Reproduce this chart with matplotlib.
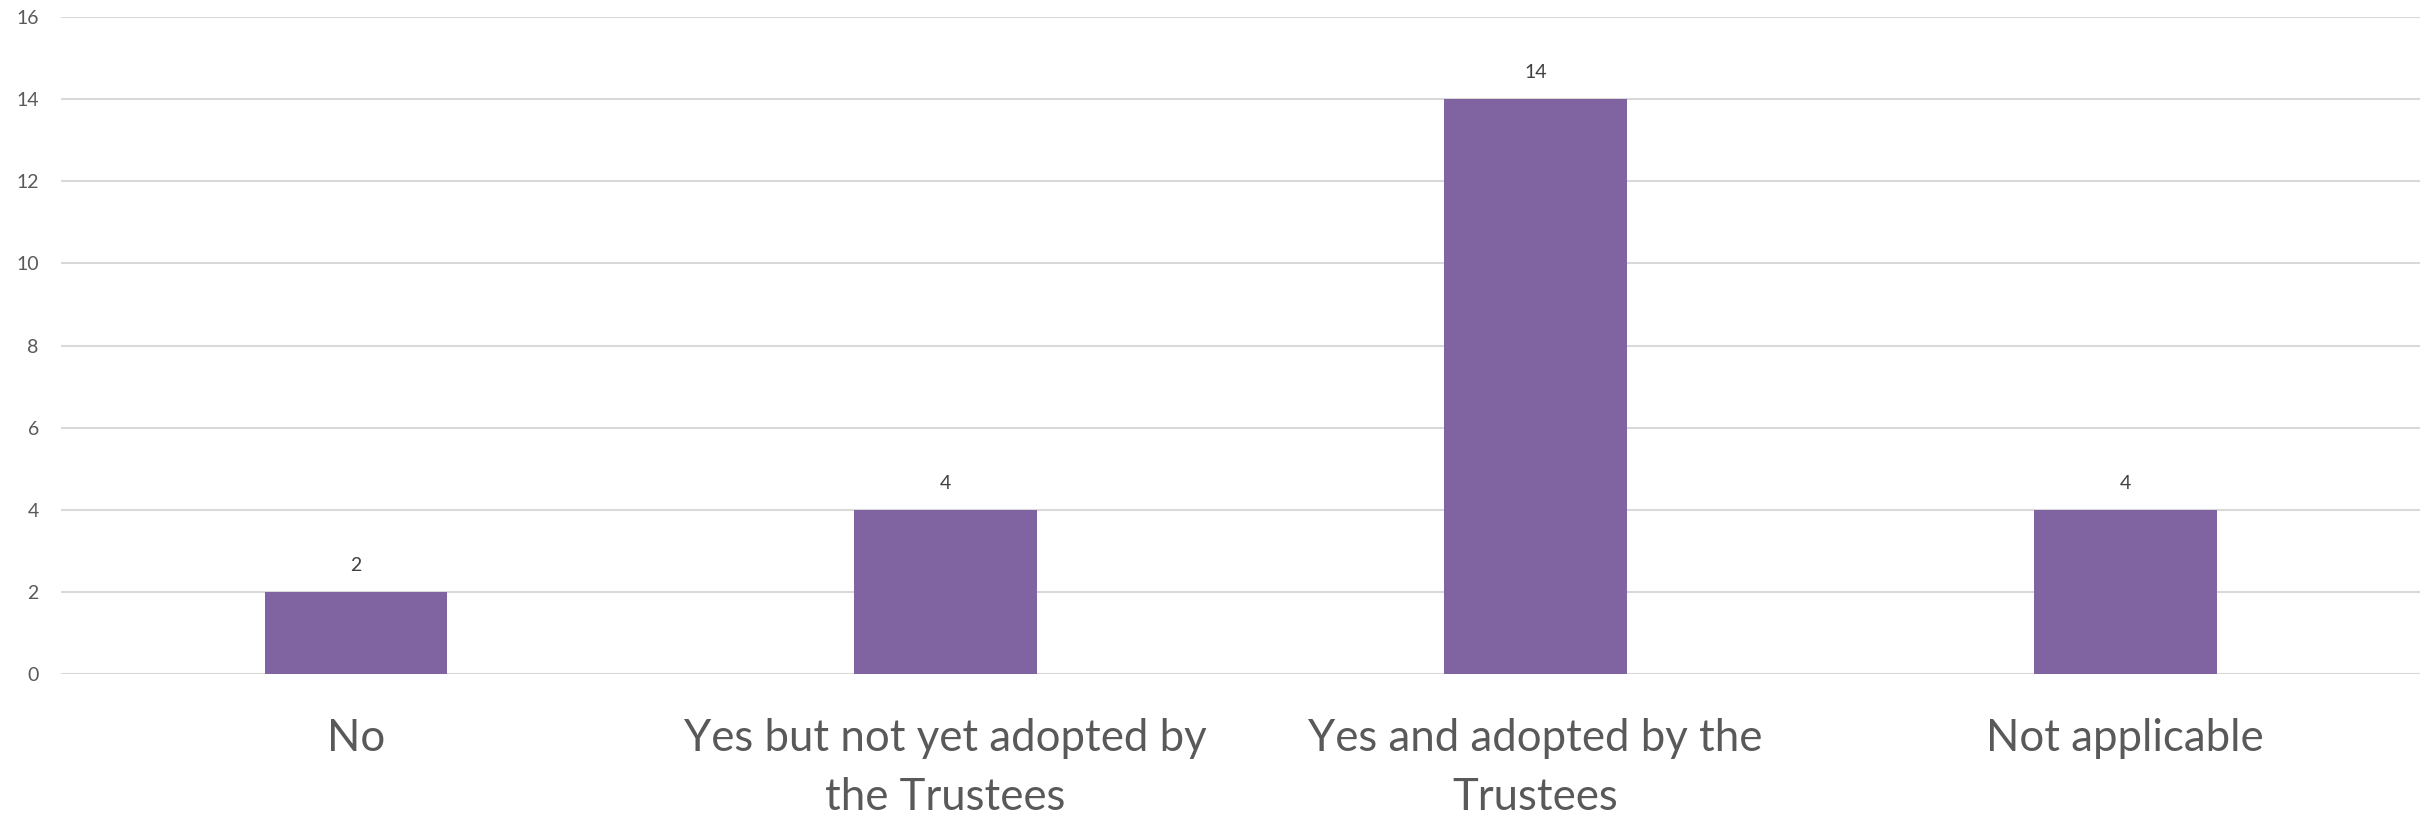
import matplotlib.pyplot as plt
import numpy as np

# Data
categories = ["No", "Yes but not yet adopted by\nthe Trustees",
              "Yes and adopted by the\nTrustees", "Not applicable"]
counts = [2, 4, 14, 4]
y_ticks = [0, 2, 4, 6, 8, 10, 12, 14, 16]

plt.rcParams['font.family'] = ['Lato', 'DejaVu Sans']

fig = plt.figure(figsize=(24.22, 8.16), dpi=100)
ax = fig.add_axes([0.0252, 0.174, 0.974, 0.805])

x = np.arange(len(categories))
bars = ax.bar(x, counts, width=0.31, color='#8064A2', zorder=3)

# value labels above bars
for xi, v in zip(x, counts):
    ax.annotate(str(v), (xi, v), xytext=(0, 13), textcoords='offset points',
                ha='center', va='bottom', fontsize=14, color='#404040')

ax.set_xlim(-0.5, len(categories) - 0.5)
ax.set_ylim(0, 16)
ax.set_yticks(y_ticks)
ax.set_yticklabels([str(t) for t in y_ticks], fontsize=14, color='#595959')
ax.set_xticks(x)
ax.set_xticklabels(categories, fontsize=31.5, color='#595959', linespacing=1.52)

ax.tick_params(axis='y', length=0, pad=16)
ax.tick_params(axis='x', length=0, pad=32)

ax.grid(axis='y', color='#D9D9D9', linewidth=1.5, zorder=0)
for s in ax.spines.values():
    s.set_visible(False)

fig.savefig('out.png', dpi=100)
